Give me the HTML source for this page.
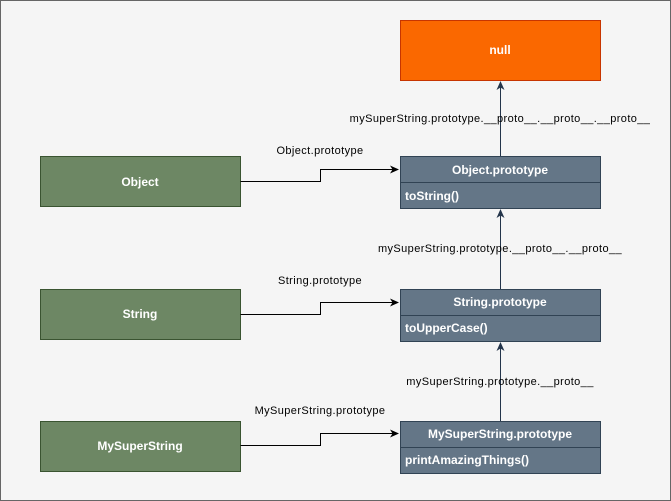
<!DOCTYPE html>
<html><head><meta charset="utf-8"><style>
html,body{margin:0;padding:0;background:#f5f5f5;}
svg{display:block;font-family:"Liberation Sans",Arial,sans-serif;}
</style></head><body>
<svg width="671" height="501" viewBox="0 0 671 501" xmlns="http://www.w3.org/2000/svg">
<defs><marker id="a" markerWidth="10" markerHeight="10" refX="8" refY="4" orient="auto" markerUnits="userSpaceOnUse"><path d="M0,0 L9,4 L0,8 L2.5,4 Z" fill="#000"/></marker>
<marker id="b" markerWidth="10" markerHeight="10" refX="8" refY="4" orient="auto" markerUnits="userSpaceOnUse"><path d="M0,0 L9,4 L0,8 L2.5,4 Z" fill="#23344a"/></marker></defs>
<rect x="0.5" y="0.5" width="670" height="500" fill="#f5f5f5" stroke="#666" stroke-width="1"/>
<rect x="400.5" y="20.5" width="200" height="60" fill="#fa6800" stroke="#c73500"/>
<text x="500" y="54" text-anchor="middle" font-size="12" font-weight="bold" fill="#fff">null</text>
<g font-size="12" font-weight="bold" fill="#fff">
<rect x="400.5" y="156.5" width="200" height="52" fill="#647687" stroke="#314354"/>
<line x1="400.5" y1="182.5" x2="600.5" y2="182.5" stroke="#314354"/>
<text x="500" y="174" text-anchor="middle">Object.prototype</text>
<text x="405" y="200">toString()</text>
<rect x="400.5" y="289.5" width="200" height="52" fill="#647687" stroke="#314354"/>
<line x1="400.5" y1="315.5" x2="600.5" y2="315.5" stroke="#314354"/>
<text x="500" y="306" text-anchor="middle">String.prototype</text>
<text x="405" y="332">toUpperCase()</text>
<rect x="400.5" y="421.5" width="200" height="52" fill="#647687" stroke="#314354"/>
<line x1="400.5" y1="447.5" x2="600.5" y2="447.5" stroke="#314354"/>
<text x="500" y="438" text-anchor="middle">MySuperString.prototype</text>
<text x="405" y="464">printAmazingThings()</text>
<rect x="40.5" y="156.5" width="200" height="50" fill="#6d8764" stroke="#3a5431"/>
<text x="140" y="186" text-anchor="middle">Object</text>
<rect x="40.5" y="289.5" width="200" height="50" fill="#6d8764" stroke="#3a5431"/>
<text x="140" y="318" text-anchor="middle">String</text>
<rect x="40.5" y="421.5" width="200" height="50" fill="#6d8764" stroke="#3a5431"/>
<text x="140" y="450" text-anchor="middle">MySuperString</text>
</g>
<g fill="none" stroke="#000" stroke-width="1">
<path d="M240.5,181.5 H320.5 V169.5 H398" marker-end="url(#a)"/>
<path d="M240.5,314.5 H320.5 V302.5 H398" marker-end="url(#a)"/>
<path d="M240.5,445.5 H320.5 V433.5 H398" marker-end="url(#a)"/>
</g>
<g fill="none" stroke="#23344a" stroke-width="1">
<path d="M500.5,421 V343" marker-end="url(#b)"/>
<path d="M500.5,289 V210" marker-end="url(#b)"/>
<path d="M500.5,156 V82" marker-end="url(#b)"/>
</g>
<g font-size="11" fill="#000" text-anchor="middle" letter-spacing="0.4">
<text x="320" y="154">Object.prototype</text>
<text x="320" y="284">String.prototype</text>
<text x="320" y="414">MySuperString.prototype</text>
<text x="500" y="385">mySuperString.prototype.__proto__</text>
<text x="500" y="252">mySuperString.prototype.__proto__.__proto__</text>
<text x="500" y="122">mySuperString.prototype.__proto__.__proto__.__proto__</text>
</g>
</svg>
</body></html>
